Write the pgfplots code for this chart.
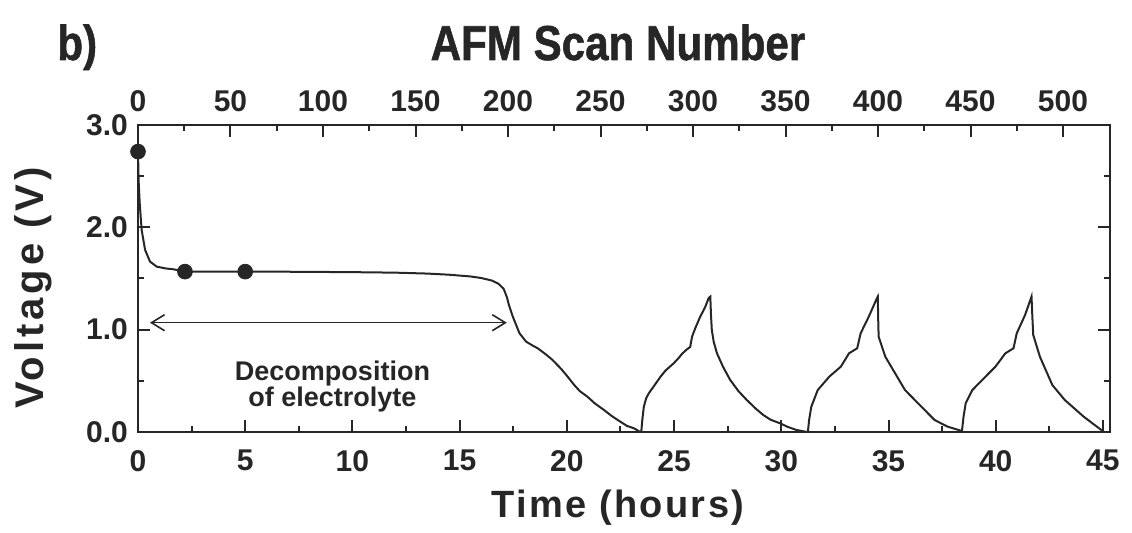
\documentclass[border=0pt]{standalone}
\usepackage{fontspec}
\setmainfont{Liberation Sans}
\newfontfamily\spacedfont[LetterSpace=6]{Liberation Sans Bold}
\newfontfamily\widefont[LetterSpace=10]{Liberation Sans Bold}
\newfontfamily\titlefont[FakeBold=1.2]{Liberation Sans Bold}
\usepackage{pgfplots}
\pgfplotsset{compat=1.18}
\usetikzlibrary{arrows.meta}
\definecolor{ink}{gray}{0.15}

% voltage trace, time in hours
\pgfplotstableread{
t V
0 2.74
0.03 2.45
0.08 2.235
0.17 1.975
0.33 1.78
0.56 1.665
0.87 1.616
1.3 1.598
1.65 1.59
2.19 1.567
5.0 1.567
7.0 1.566
10.0 1.562
12.0 1.557
13.5 1.548
14.5 1.537
15.5 1.52
16.0 1.505
16.5 1.48
16.8 1.45
17.05 1.40
17.2 1.32
17.3 1.24
17.48 1.127
17.79 0.965
18.1 0.883
18.4 0.845
18.64 0.818
18.95 0.77
19.3 0.71
19.72 0.62
20.0 0.55
20.34 0.46
20.6 0.40
20.96 0.345
21.3 0.28
21.73 0.215
22.1 0.155
22.5 0.10
22.8 0.06
23.13 0.036
23.42 0.0
23.47 0.0
23.52 0.12
23.59 0.247
23.70 0.33
23.82 0.378
24.1 0.46
24.37 0.541
24.6 0.60
24.98 0.671
25.2 0.72
25.4 0.77
25.6 0.808
25.75 0.83
25.84 0.932
26.0 1.02
26.22 1.127
26.45 1.22
26.61 1.307
26.69 1.323
26.72 1.15
26.76 0.997
26.85 0.88
27.0 0.769
27.3 0.63
27.62 0.508
28.0 0.40
28.39 0.313
28.8 0.23
29.16 0.166
29.5 0.12
29.94 0.085
30.3 0.05
30.7 0.02
31.2 0.0
31.24 0.0
31.3 0.12
31.4 0.247
31.7 0.41
32.24 0.541
32.78 0.639
33.16 0.769
33.54 0.818
33.7 0.964
34.08 1.127
34.46 1.307
34.5 1.323
34.52 1.10
34.54 0.932
34.85 0.736
35.31 0.573
35.77 0.41
36.38 0.28
37.15 0.117
37.76 0.052
38.37 0.013
38.42 0.0
38.5 0.15
38.6 0.28
38.91 0.41
39.45 0.525
39.99 0.639
40.45 0.769
40.83 0.818
40.98 0.964
41.37 1.144
41.67 1.323
41.71 1.12
41.75 0.948
42.06 0.736
42.64 0.459
43.22 0.313
44.1 0.15
45.05 0.0
}\trace

\begin{document}
\begin{tikzpicture}[font=\bfseries, every node/.style={text=ink}]
\begin{axis}[
  scale only axis,
  width=486pt, height=153.5pt,
  xmin=0, xmax=45.33, ymin=0, ymax=3,
  xtick={0,5,...,45}, ytick={0,1,2,3},
  yticklabels={0.0,1.0,2.0,3.0},
  minor x tick num=1, minor y tick num=1,
  xtick pos=bottom, yticklabel pos=left,
  tick align=inside,
  major tick length=5.8pt, minor tick length=2.8pt,
  axis line style={ink, line width=1.2pt},
  major tick style={ink, line width=1pt},
  minor tick style={ink, line width=1pt},
  /pgf/number format/assume math mode=true,
  tick label style={font=\fontsize{15}{18}\selectfont\bfseries, text=ink},
  xticklabel style={yshift=-5.5pt},
  yticklabel style={xshift=-1.5pt},
]
\addplot[ink, line width=1pt] table[x=t, y=V] {\trace};
\addplot[only marks, mark=*, mark size=3.7pt, ink] coordinates {(0,2.74) (2.19,1.567) (5.0,1.567)};
\draw[ink, line width=0.8pt, {Straight Barb[length=6.5pt,width=8pt]}-{Straight Barb[length=6.5pt,width=8pt]}]
  (axis cs:0.56,1.068) -- (axis cs:17.2,1.068);
\node[anchor=base, inner sep=1pt, font=\fontsize{13.5}{16}\selectfont\bfseries] at (axis cs:9.07,0.50) {Decomposition};
\node[anchor=base, inner sep=1pt, font=\fontsize{13.5}{16}\selectfont\bfseries] at (axis cs:9.07,0.25) {of electrolyte};
\end{axis}
\begin{axis}[
  scale only axis,
  width=486pt, height=153.5pt,
  xmin=0, xmax=525.4, ymin=0, ymax=3,
  axis x line*=top, hide y axis,
  xtick={0,50,...,500}, minor x tick num=1,
  tick align=inside,
  major tick length=5.8pt, minor tick length=2.8pt,
  axis line style={ink, line width=1.2pt},
  major tick style={ink, line width=1pt},
  minor tick style={ink, line width=1pt},
  /pgf/number format/assume math mode=true,
  tick label style={font=\fontsize{15}{18}\selectfont\bfseries, text=ink},
  xticklabel style={yshift=3pt},
]
\addplot[draw=none] coordinates {(0,0)};
\end{axis}
\node[anchor=base, font=\fontsize{19}{22}\selectfont\spacedfont] at (240pt,-43pt) {Time (hours)};
\node[anchor=base, rotate=90, font=\fontsize{20}{24}\selectfont\widefont] at (-47pt,72pt) {Voltage (V)};
\node[anchor=base, xscale=0.86, transform shape, font=\fontsize{24.5}{29}\selectfont\titlefont] at (240pt,186pt) {AFM Scan Number};
\node[anchor=base west, inner sep=0pt, xscale=0.86, transform shape, font=\fontsize{24.5}{29}\selectfont\titlefont] at (-40.5pt,186pt) {b)};
\path (-69pt,-50.5pt) rectangle (497pt,216pt);
\end{tikzpicture}
\end{document}
